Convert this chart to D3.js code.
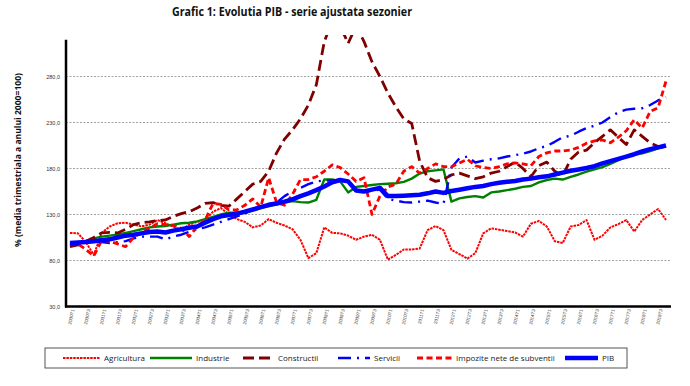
<!DOCTYPE html>
<html>
<head>
<meta charset="utf-8">
<script src="https://cdn.jsdelivr.net/npm/d3@7"></script>
<style>
  body { margin: 0; background: #fff; }
  svg { display: block; font-family: "Open Sans", "Liberation Sans", sans-serif; }
</style>
</head>
<body>
<svg id="chart" width="690" height="386"></svg>
<script>
const quarters = [
  "2000T1","2000T2","2000T3","2000T4","2001T1","2001T2","2001T3","2001T4",
  "2002T1","2002T2","2002T3","2002T4","2003T1","2003T2","2003T3","2003T4",
  "2004T1","2004T2","2004T3","2004T4","2005T1","2005T2","2005T3","2005T4",
  "2006T1","2006T2","2006T3","2006T4","2007T1","2007T2","2007T3","2007T4",
  "2008T1","2008T2","2008T3","2008T4","2009T1","2009T2","2009T3","2009T4",
  "2010T1","2010T2","2010T3","2010T4","2011T1","2011T2","2011T3","2011T4",
  "2012T1","2012T2","2012T3","2012T4","2013T1","2013T2","2013T3","2013T4",
  "2014T1","2014T2","2014T3","2014T4","2015T1","2015T2","2015T3","2015T4",
  "2016T1","2016T2","2016T3","2016T4","2017T1","2017T2","2017T3","2017T4",
  "2018T1","2018T2","2018T3","2018T4"
];

const agricultura = [
  110, 109.5, 100, 86, 110, 117, 120.5, 121, 119, 117, 119, 124, 120.5, 117, 113, 119,
  122, 124, 133, 137, 130, 125, 122, 116, 118, 125, 121, 118, 114, 102.5, 82.5, 88,
  116, 110, 109.5, 107, 102.5, 106, 108, 102.5, 81, 86, 92, 92, 93, 113, 117.5, 113,
  91.5, 87, 82, 88, 109.5, 115, 113.5, 112, 110.5, 106, 120, 123, 117, 101, 99, 117,
  118.5, 124, 102.5, 107, 116, 119.5, 124, 111.5, 124, 130, 136, 124
];

const industrie = [
  97, 99, 101, 104, 106, 107, 108, 110, 112, 114, 116, 117, 117.5, 119, 120.5, 121,
  122.5, 125, 127.5, 130, 132, 132, 132, 134, 137, 139, 141, 143, 144.5, 143.5, 143, 146,
  168, 168, 166, 154, 160, 161, 162, 163, 163.5, 164, 165.5, 169, 174.5, 177, 178, 179,
  144, 147.5, 149, 150, 148.5, 154, 155, 156.5, 158, 160, 161, 165, 167.5, 169, 168, 171,
  173.5, 176.5, 179, 181.5, 185, 189, 193, 195, 196.5, 199, 202, 204
];

const constructii = [
  95, 97, 101, 105, 110, 110.5, 110, 114, 119, 121, 122, 123.5, 124, 128, 131, 133,
  137, 142, 143, 140, 139, 147, 155, 163, 166, 177, 197, 212, 222, 234, 249, 271,
  318, 340, 335, 316, 335, 318, 296, 280, 262, 247, 234, 229, 188, 170, 166, 168,
  173, 175, 172, 169, 171, 175, 177, 182, 187, 180, 171, 183, 187, 177, 172, 190,
  198, 200, 208, 215, 222, 214, 206, 222, 215, 208, 204, 203
];

const servicii = [
  98, 99, 100, 100, 100, 99, 100, 101, 104, 106, 106, 106, 103, 106, 108, 111,
  114, 116, 119, 122, 125, 128, 131, 135, 138.5, 141, 143, 150, 155, 159, 163, 166,
  167, 167, 168, 166, 157, 155, 156, 157, 147, 145, 143.5, 143, 144, 145, 143, 141.5,
  181, 191, 193, 186.5, 188.5, 190, 191, 193, 194.5, 196, 198.5, 202, 204.5, 209, 214, 215.5,
  220, 224, 226.5, 230, 236, 241, 244, 245, 245.5, 249, 254, 257.5
];

const impozite = [
  99, 98, 92, 85, 102, 101, 98, 95, 105, 111, 115, 120, 119, 118, 115, 106,
  117, 124, 142, 141, 135, 135, 140, 147, 138, 170, 143, 140, 152, 168, 168, 171,
  177, 184, 181, 174, 166, 170, 130, 150, 160, 163, 177, 182, 175, 180, 185, 182,
  182, 186, 190, 183, 181, 180, 182, 185, 186, 185, 183, 193, 197, 199, 199, 200,
  203, 207.5, 210, 211, 208, 214, 221, 233, 224, 242, 246, 275
];

const pib = [
  99, 99.5, 100, 101, 102, 103, 105, 107, 108, 109.5, 111, 111.5, 110.5, 112.5, 114, 115.5,
  117, 121, 125, 128, 129.5, 131, 133, 135.5, 138, 140.5, 142, 144, 146.5, 150, 153, 156.5,
  160.5, 165, 167.5, 166, 156, 155, 157, 159, 150, 150, 150.5, 151, 151.5, 153, 155, 153.5,
  155.5, 157, 158.5, 160, 161, 163, 164.5, 165.5, 166.5, 168, 169, 170.5, 171.5, 173.5, 175.5, 177.5,
  179, 180.5, 182.5, 185.5, 188, 190.5, 193, 195.5, 198.5, 201, 203, 205
];

const yTicks = [30, 80, 130, 180, 230, 280];

const series = [
  { name: "Agricultura", values: agricultura, color: "#ff0000", width: 2, dash: "2.5,0.9" },
  { name: "Industrie", values: industrie, color: "#008000", width: 2.4, dash: null },
  { name: "Constructii", values: constructii, color: "#800000", width: 2.8, dash: "11,5" },
  { name: "Servicii", values: servicii, color: "#0000ff", width: 2.4, dash: "13,6,2,6" },
  { name: "Impozite nete de subventii", values: impozite, color: "#ff0000", width: 2.8, dash: "6,3.5" },
  { name: "PIB", values: pib, color: "#0000ff", width: 4.5, dash: null },
];

const svg = d3.select("#chart");
const plotLeft = 66, plotRight = 670, plotTop = 39.7, plotBottom = 306.5;

const x = d3.scalePoint().domain(quarters).range([plotLeft, plotRight]).padding(0.5);
const y = d3.scaleLinear().domain([30, 320]).range([plotBottom, plotTop]);

// title
svg.append("text")
  .attr("x", 172).attr("y", 16)
  .attr("textLength", 240).attr("lengthAdjust", "spacingAndGlyphs")
  .attr("font-size", 12).attr("font-weight", "bold").attr("fill", "#111")
  .text("Grafic 1: Evolutia PIB - serie ajustata sezonier");

// y axis title
svg.append("text")
  .attr("transform", "translate(21,160) rotate(-90)")
  .attr("text-anchor", "middle")
  .attr("textLength", 174).attr("lengthAdjust", "spacingAndGlyphs")
  .attr("font-size", 9.5).attr("font-weight", "bold").attr("fill", "#111")
  .text("% (media trimestriala a anului 2000=100)");

// gridlines
svg.append("g")
  .selectAll("line")
  .data(yTicks.filter((d) => d > 30))
  .join("line")
  .attr("x1", plotLeft).attr("x2", plotRight)
  .attr("y1", (d) => y(d)).attr("y2", (d) => y(d))
  .attr("stroke", "#8a8a8a").attr("stroke-width", 0.8).attr("stroke-dasharray", "2,1.5");

// y axis
const yAxis = svg.append("g")
  .attr("transform", `translate(${plotLeft},0)`)
  .call(d3.axisLeft(y).tickValues(yTicks).tickSize(0).tickPadding(6).tickFormat((d) => d3.format(".1f")(d).replace(".", ",")));
yAxis.select(".domain").remove();
yAxis.selectAll("text").attr("font-size", 5.5).attr("fill", "#333");

// x axis
const xLabels = quarters.filter((d, i) => i % 2 === 0);
const xAxis = svg.append("g")
  .attr("transform", `translate(0,${plotBottom})`)
  .call(d3.axisBottom(x).tickValues(xLabels).tickSize(0).tickPadding(3));
xAxis.select(".domain").remove();
xAxis.selectAll("text")
  .attr("font-size", 4.6).attr("fill", "#444")
  .attr("text-anchor", "end")
  .attr("transform", "rotate(-78)")
  .attr("dx", -2).attr("dy", 1.5);

// clip for lines
svg.append("clipPath").attr("id", "plot-clip")
  .append("rect").attr("x", plotLeft).attr("y", 35).attr("width", plotRight - plotLeft + 4).attr("height", plotBottom - 35);

const line = d3.line()
  .x((d, i) => x(quarters[i]))
  .y((d) => y(d));

svg.append("g")
  .attr("clip-path", "url(#plot-clip)")
  .selectAll("path")
  .data(series)
  .join("path")
  .attr("d", (s) => line(s.values))
  .attr("fill", "none")
  .attr("stroke", (s) => s.color)
  .attr("stroke-width", (s) => s.width)
  .attr("stroke-dasharray", (s) => s.dash)
  .attr("stroke-linejoin", "round");

// axis lines
svg.append("line")
  .attr("x1", plotLeft).attr("x2", plotLeft).attr("y1", plotTop).attr("y2", plotBottom + 1)
  .attr("stroke", "#000").attr("stroke-width", 2.5);
svg.append("line")
  .attr("x1", plotLeft - 1).attr("x2", plotRight + 1).attr("y1", plotBottom).attr("y2", plotBottom)
  .attr("stroke", "#000").attr("stroke-width", 2.5);

// legend
const legend = svg.append("g");
legend.append("rect")
  .attr("x", 45).attr("y", 348).attr("width", 582).attr("height", 20)
  .attr("fill", "#fff").attr("stroke", "#555").attr("stroke-width", 1);

const legendPos = [
  { x1: 63, x2: 100, tx: 104 },
  { x1: 150, x2: 192, tx: 196 },
  { x1: 243, x2: 275, tx: 278 },
  { x1: 338, x2: 370, tx: 374 },
  { x1: 417, x2: 452, tx: 456 },
  { x1: 565, x2: 598, tx: 602 },
];

series.forEach((s, i) => {
  const p = legendPos[i];
  legend.append("line")
    .attr("x1", p.x1).attr("x2", p.x2).attr("y1", 358).attr("y2", 358)
    .attr("stroke", s.color)
    .attr("stroke-width", s.width)
    .attr("stroke-dasharray", s.dash);
  legend.append("text")
    .attr("x", p.tx).attr("y", 361)
    .attr("font-size", 8).attr("fill", "#222")
    .text(s.name);
});
</script>
</body>
</html>
